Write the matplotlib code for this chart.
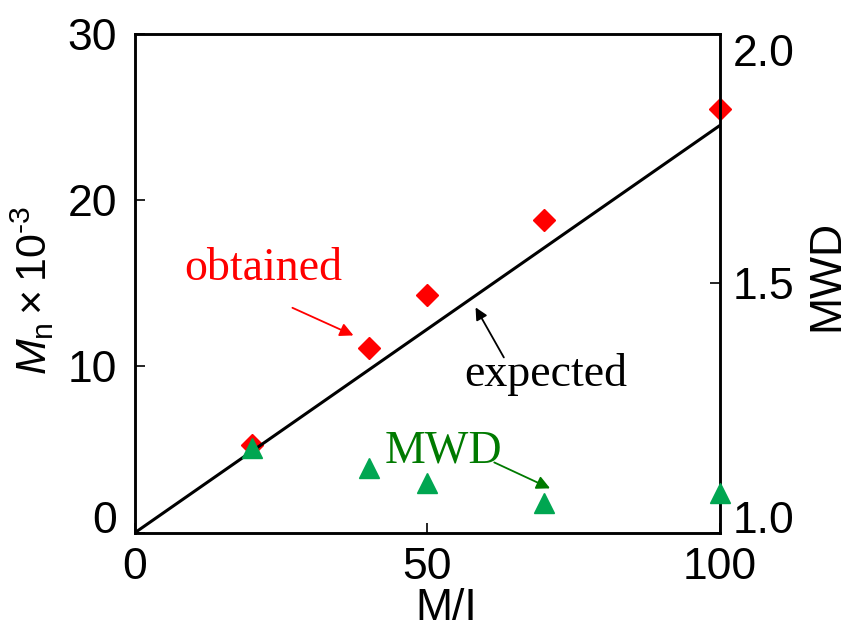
import matplotlib
matplotlib.use('Agg')
import matplotlib.pyplot as plt

# data
mi = [20, 40, 50, 70, 100]
mn_obtained = [5.3, 11.1, 14.3, 18.8, 25.5]   # Mn x 10^-3
mwd = [1.17, 1.13, 1.10, 1.06, 1.08]
exp_x = [0, 100]
exp_y = [0, 24.5]

plt.rcParams['font.family'] = ['Liberation Sans', 'DejaVu Sans']
plt.rcParams['mathtext.fontset'] = 'custom'
plt.rcParams['mathtext.rm'] = 'Liberation Sans'
plt.rcParams['mathtext.it'] = 'Liberation Sans:italic'

fig = plt.figure(figsize=(8.48, 6.29), dpi=100)
ax = fig.add_axes([0.159, 0.153, 0.690, 0.793])

ax.plot(mi, mn_obtained, 'D', color='red', markersize=11, clip_on=False, zorder=2)
ax.plot(exp_x, exp_y, color='black', lw=2.2, zorder=3)

ax.set_xlim(0, 100)
ax.set_ylim(0, 30)
ax.set_xticks([0, 50, 100])
ax.set_yticks([0, 10, 20, 30])
ax.tick_params(direction='in', length=7, width=1.2, labelsize=32, pad=13)
ax.tick_params(axis='x', pad=10)
ax.tick_params(top=False)
for s in ax.spines.values():
    s.set_linewidth(1.8)
ax.get_yticklabels()[0].set_va('baseline')

ax.set_xlabel('M/I', fontsize=32)
ax.xaxis.set_label_coords(0.533, -0.11)
ax.set_ylabel('$M_{\\rm n}\\times10^{\\rm \u20103}$', fontsize=31)
ax.yaxis.set_label_coords(-0.135, 0.485)

ax2 = ax.twinx()
ax2.plot(mi, mwd, '^', color='#00a651', markersize=14, clip_on=False, zorder=4)
ax2.set_ylim(1.0, 2.0)
ax2.set_yticks([1.0, 1.5, 2.0])
ax2.set_yticklabels(['1.0', '1.5', '2.0'])
ax2.tick_params(direction='in', length=7, width=1.2, labelsize=32, pad=9)
labs = ax2.get_yticklabels()
labs[0].set_va('baseline')
labs[2].set_va('top')
ax2.set_ylabel('MWD', fontsize=32)
ax2.yaxis.set_label_coords(1.147, 0.515)
for s in ax2.spines.values():
    s.set_linewidth(1.8)

# annotations
ax.annotate('', xy=(37.8, 11.8), xytext=(26.5, 13.6),
            arrowprops=dict(arrowstyle='-|>', color='red', lw=1.3, mutation_scale=20))
ax.text(22.0, 15.9, 'obtained', color='red', fontsize=33, family='Liberation Serif',
        ha='center', va='center')
ax.annotate('', xy=(58.0, 13.7), xytext=(63.3, 10.4),
            arrowprops=dict(arrowstyle='-|>', color='black', lw=1.3, mutation_scale=18))
ax.text(70.3, 9.5, 'expected', color='black', fontsize=33, family='Liberation Serif',
        ha='center', va='center')
ax.annotate('', xy=(71.4, 2.6), xytext=(61.0, 4.3),
            arrowprops=dict(arrowstyle='-|>', color='#007a00', lw=1.3, mutation_scale=20))
ax.text(52.7, 4.9, 'MWD', color='#007a00', fontsize=33, family='Liberation Serif',
        ha='center', va='center')

fig.savefig('out.png', dpi=100)
